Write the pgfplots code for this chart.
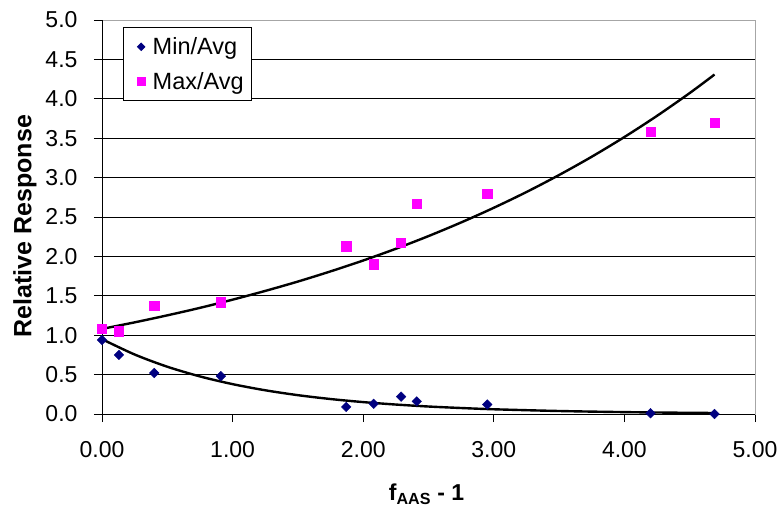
\documentclass[border=0pt]{standalone}
\usepackage{pgfplots}
\pgfplotsset{compat=1.18}
\usepackage{fontspec}
\setmainfont{Liberation Sans}
\definecolor{navyc}{RGB}{0,0,128}
\definecolor{magc}{RGB}{255,0,255}
\pgfplotsset{
  mylegA/.style={legend image code/.code={\path (0cm,0cm) (0.72cm,0cm); \draw[##1, mark size=2.6pt] plot coordinates {(0.4cm,0cm)};}},
  mylegB/.style={legend image code/.code={\path (0cm,0cm) (0.72cm,0cm); \draw[##1, mark size=4pt] plot coordinates {(0.4cm,0cm)};}},
}
\begin{document}
\begin{tikzpicture}
\useasboundingbox (-102pt,-92pt) rectangle (679pt,414pt);
\begin{axis}[
  scale only axis, width=653pt, height=394pt,
  xmin=0, xmax=5, ymin=0, ymax=5,
  xtick={0,1,2,3,4,5}, ytick={0,0.5,1,1.5,2,2.5,3,3.5,4,4.5,5},
  xtick pos=bottom, ytick pos=left,
  ymajorgrids, major grid style={black, line width=0.9pt},
  axis line style={gray!70, line width=0.9pt},
  tick align=outside, major tick length=8pt,
  tick style={black, line width=0.9pt},
  /pgf/number format/assume math mode=true,
  xticklabel style={/pgf/number format/fixed, /pgf/number format/fixed zerofill, /pgf/number format/precision=2, yshift=-16pt},
  yticklabel style={/pgf/number format/fixed, /pgf/number format/fixed zerofill, /pgf/number format/precision=1, xshift=-13pt},
  tick label style={font=\fontsize{23}{27}\selectfont},
  xlabel={\textbf{f\textsubscript{AAS} - 1}},
  ylabel={\textbf{Relative Response}},
  xlabel style={font=\fontsize{23}{27}\selectfont, at={(axis description cs:0.497,-0.203)}, anchor=center},
  ylabel style={font=\fontsize{25}{28}\selectfont, at={(axis description cs:-0.118,0.477)}, anchor=center},
  legend style={at={(axis cs:0.16,4.91)}, anchor=north west, draw=black, fill=white,
    font=\fontsize{23.5}{26}\selectfont, inner xsep=6pt, inner ysep=8pt, row sep=12pt,
    line width=0.9pt},
  legend cell align=left,
  clip=false,
]
\addplot[black, line width=2.4pt, smooth, forget plot] coordinates {
(0,1.08) (0.25,1.163) (0.5,1.252) (0.75,1.347) (1.0,1.451) (1.25,1.562) (1.5,1.681)
(1.75,1.810) (2.0,1.948) (2.25,2.097) (2.5,2.258) (2.75,2.431) (3.0,2.617) (3.25,2.817)
(3.5,3.033) (3.75,3.265) (4.0,3.515) (4.25,3.784) (4.5,4.073) (4.69,4.308)};
\addplot[black, line width=2.4pt, smooth, forget plot] coordinates {
(0,0.95) (0.25,0.755) (0.5,0.600) (0.75,0.477) (1.0,0.379) (1.25,0.301) (1.5,0.239)
(1.75,0.190) (2.0,0.151) (2.25,0.120) (2.5,0.095) (2.75,0.076) (3.0,0.060) (3.5,0.038)
(4.0,0.024) (4.5,0.015) (4.69,0.013)};
\addplot[only marks, mark=square*, mark options={rotate=45}, mark size=3.4pt, draw=navyc, fill=navyc, mylegA] coordinates {
(0.0,0.94) (0.13,0.75) (0.40,0.52) (0.91,0.48) (1.87,0.09) (2.08,0.13) (2.29,0.22)
(2.41,0.16) (2.95,0.12) (4.20,0.01) (4.69,0.0)};
\addlegendentry{Min/Avg}
\addplot[only marks, mark=square*, mark size=4.6pt, draw=magc, fill=magc, mylegB] coordinates {
(0.0,1.08) (0.13,1.05) (0.40,1.37) (0.91,1.42) (1.87,2.13) (2.08,1.90) (2.29,2.17)
(2.41,2.67) (2.95,2.80) (4.20,3.58) (4.69,3.70)};
\addlegendentry{Max/Avg}
\draw[black, line width=0.9pt] (rel axis cs:0,0) -- (rel axis cs:0,1);
\draw[black, line width=0.9pt] (rel axis cs:0,0) -- (rel axis cs:1,0);
\end{axis}
\end{tikzpicture}
\end{document}
